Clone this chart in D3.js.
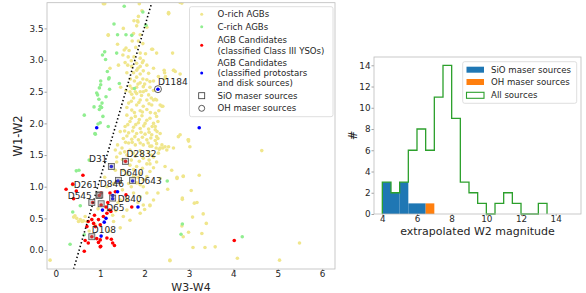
<!DOCTYPE html>
<html>
<head>
<meta charset="utf-8">
<script src="https://cdn.jsdelivr.net/npm/d3@7"></script>
<style>
  body { margin: 0; background: #fff; }
  svg text { font-family: "DejaVu Sans", sans-serif; fill: #262626; }
</style>
</head>
<body>
<div id="chart"></div>
<script>
// ---- data ----
// O-rich AGBs (W3-W4, W1-W2)
var oRich = [
  [1.07,3.89],[1.88,3.89],[2.84,3.90],[2.54,3.74],[1.94,3.78],[1.86,3.69],[1.76,3.62],[1.85,3.60],[1.82,3.54],
  [1.52,3.50],[2.05,3.52],[1.18,3.40],[1.90,3.40],[1.75,3.42],[1.39,3.25],[1.96,3.26],[2.18,3.17],[1.58,3.19],
  [1.54,3.16],[2.63,3.11],[2.27,3.11],[1.90,3.11],[1.51,3.08],[1.63,3.05],[1.76,3.05],[1.90,3.03],[1.97,2.99],
  [1.70,2.99],[1.56,2.96],[1.82,2.95],[2.05,2.92],[1.71,2.90],[1.90,2.90],[2.20,2.87],[1.82,2.84],[1.97,2.83],
  [1.75,2.80],[1.90,2.78],[2.09,2.79],[2.45,2.80],[2.66,2.84],[2.80,2.78],[1.82,2.73],[1.96,2.70],[1.77,2.67],
  [2.05,2.69],[1.90,2.64],[2.31,2.74],[2.20,2.67],[2.47,2.74],[1.46,2.57],[1.67,2.59],[1.82,2.57],[1.97,2.58],
  [2.12,2.57],[1.79,2.50],[1.90,2.50],[2.03,2.52],[1.58,2.52],[1.71,2.46],[2.20,2.52],
  [1.67,2.50],[1.82,2.47],[1.97,2.50],[2.09,2.45],[1.75,2.40],[1.90,2.37],[2.05,2.37],[2.24,2.38],[1.64,2.32],
  [1.82,2.29],[1.97,2.27],[2.16,2.29],[2.35,2.29],[1.71,2.21],[1.90,2.20],[2.05,2.22],[2.24,2.16],[2.41,2.27],
  [1.60,2.13],[1.79,2.11],[1.94,2.12],[2.12,2.08],[2.27,2.11],[1.67,2.03],[1.86,2.01],[2.01,2.00],[2.20,2.00],
  [1.56,1.95],[1.75,1.94],[1.90,1.92],[2.09,1.91],[2.24,1.90],[1.45,1.87],[1.64,1.85],[1.82,1.84],[2.01,1.83],
  [2.16,1.82],[2.35,1.84],[1.52,1.76],[1.71,1.75],[1.86,1.74],[2.05,1.74],[2.24,1.73],[1.64,1.69],[1.79,1.66],
  [1.97,1.66],[2.16,1.64],[2.35,1.61],[2.50,1.58],[1.49,1.61],[1.67,1.58],[1.90,1.57],[2.09,1.55],[2.31,1.53],
  [1.45,1.53],[1.60,1.50],[1.79,1.48],[1.97,1.45],[2.20,1.47],[2.65,1.61],[2.98,1.74],[1.39,1.66],[1.34,1.58],
  [1.37,1.47],[1.67,1.34],[1.82,1.32],[2.05,1.36],[2.27,1.39],[2.46,1.32],[2.61,1.26],[2.73,1.13],[2.87,1.17],
  [1.90,1.21],[2.12,1.24],[1.75,1.16],[1.97,1.11],[2.35,1.13],[1.52,1.26],[1.37,1.39],[1.34,1.26],
  [1.45,1.08],[1.64,1.05],[1.82,1.06],[1.97,1.00],[2.05,0.90],[1.90,0.84],[2.20,0.79],[1.97,0.71],[2.12,0.71],
  [1.90,0.58],[2.00,0.64],[2.85,0.82],[2.52,0.96],[1.60,0.63],[1.52,0.53],[1.45,0.79],[0.43,0.54],[0.51,0.45],
  [0.59,0.45],[0.66,0.53],[0.70,0.45],[-0.13,-0.16],[2.57,-0.16],[1.67,0.47],[0.40,0.52],[0.47,0.50],[0.55,0.48],
  [0.62,0.46],[0.88,0.40],[0.75,0.30],[1.20,0.30],[1.30,0.45],[1.45,0.35],[1.35,0.62],[1.50,0.95],[1.60,0.80],
  [1.15,1.00],[1.30,1.05],[1.10,1.15],[0.95,0.65],
  [2.12,1.64],[2.26,1.61],[2.33,1.59],[2.41,1.61],[2.54,1.63],[2.99,1.72],[4.64,1.57],[2.12,1.36],[2.73,1.15],
  [2.87,1.16],[3.23,1.18],[3.05,0.94],[2.85,0.80],[3.12,0.74],[3.18,0.75],[2.12,0.70],[3.32,0.57],[3.08,0.52],
  [3.39,0.42],[2.84,0.38],[2.99,0.28],[3.29,0.26],[2.87,0.21],[3.09,0.04],[3.36,0.04],[3.59,0.05],[4.09,-0.13],
  [5.04,-0.16],[5.49,0.11],[2.57,-0.17],
  [2.54,3.75],[2.44,2.84],[2.69,2.82],[2.46,2.71],[2.80,3.91],[2.54,3.73],[2.65,2.84],[2.27,2.37],[2.39,2.27],
  [2.99,1.74],[2.80,1.82],[2.20,2.37],[2.24,1.95],[2.27,1.79],[2.39,1.66],[2.46,1.63],[2.76,1.79],[3.02,1.63],
  [1.10,3.89],[1.84,3.62],[1.18,3.39],[2.16,3.17],[1.22,2.87],[1.41,2.92],
  [1.60,2.80],[1.68,2.70],[1.85,2.62],[2.00,2.62],[2.12,2.66],[1.72,2.55],[1.93,2.44],[2.15,2.40],[1.70,2.35],
  [1.87,2.33],[2.10,2.31],[1.60,2.25],[1.77,2.17],[1.95,2.18],[2.13,2.17],[2.32,2.20],[1.70,2.08],[1.88,2.06],
  [2.05,2.05],[2.30,2.03],[1.62,1.98],[1.80,1.98],[1.98,1.96],[2.17,1.95],[1.55,1.88],[1.73,1.88],[1.92,1.86],
  [2.10,1.86],[2.28,1.87],[1.60,1.80],[1.78,1.79],[1.95,1.78],[2.14,1.77],[2.30,1.76],[1.57,1.70],[1.72,1.70],
  [1.90,1.69],[2.08,1.69],[2.27,1.68],[1.55,1.55],[1.74,1.53],[1.95,1.52],[2.15,1.50],[1.50,1.43],[1.70,1.42],
  [1.88,1.40],[2.10,1.42],[1.75,1.27],[1.95,1.29],[2.20,1.30],[1.60,1.20],[1.85,1.15],[2.05,1.16],[1.70,1.00],
  [1.90,1.03],[1.75,0.90],[1.85,0.75],[2.30,0.90],[1.40,0.75],[1.28,0.55],
  [1.65,3.15],[1.80,3.20],[1.72,3.30],[1.86,3.30],[2.02,3.10],[1.62,2.92],[1.95,2.96],[1.85,2.87]
];
// C-rich AGBs
var cRich = [
  [1.54,3.85],[1.96,3.76],[1.31,3.57],[2.03,3.55],[1.39,3.40],[1.58,3.40],[1.71,3.39],[1.10,3.13],[1.05,3.08],
  [1.37,3.11],[1.12,3.01],[1.16,2.82],[1.20,2.72],[1.01,2.67],[1.19,2.70],[1.43,2.63],[1.01,2.61],[0.98,2.56],
  [1.21,2.54],[0.92,2.48],[1.13,2.42],[0.97,2.38],[1.77,2.55],[0.86,2.26],[1.00,2.27],[1.03,2.25],[0.98,2.22],
  [0.64,2.13],[1.06,2.11],[0.89,1.83],[1.18,1.95],[0.94,2.45],[1.04,2.32],[1.00,2.01],[0.95,1.99],[0.88,1.84],
  [0.75,1.42],[0.46,1.25],[0.52,1.26],[0.32,0.09],[0.38,0.60],[0.55,0.70],[2.51,1.09],[0.38,1.03],[0.64,0.24],
  [2.85,0.41],[2.82,0.25],[4.20,0.21]
];
// AGB candidates classified as Class III YSOs
var candIII = [
  [0.23,0.96],[0.46,0.93],[0.40,0.81],[0.98,0.86],[1.02,0.90],[0.83,0.75],[1.02,0.71],[1.17,0.75],[1.13,0.68],
  [1.21,0.63],[1.15,0.58],[1.24,0.61],[0.87,0.55],[0.81,0.48],[0.73,0.45],[0.85,0.42],[0.96,0.48],[1.07,0.53],
  [0.70,0.37],[0.89,0.37],[1.00,0.40],[0.81,0.21],[0.92,0.18],[1.00,0.16],[0.66,0.15],[0.73,0.11],[0.96,0.12],
  [1.01,0.06],[1.15,0.19],[1.25,0.17],[1.28,0.11],[0.64,-0.02],[1.58,0.87],[1.71,0.68],[1.34,0.92],[1.22,0.90],
  [0.61,1.18],[0.38,1.04],[1.32,0.07],[1.00,0.05],[1.57,1.40],[4.02,0.15]
];
// AGB candidates classified as protostars and disk sources
var candProto = [
  [0.92,1.93],[3.23,1.93],[2.30,2.54],[1.25,1.32],[1.40,1.09],[1.73,1.09],[1.39,0.92],[1.28,0.86],[1.28,0.81],
  [1.85,0.68],[1.05,0.63],[1.13,0.50],[1.09,0.44],[1.02,0.22]
];
// maser sources
var sioNames = ["D31", "D2832", "D640", "D643", "D261", "D846", "D545", "D65", "D840", "D108"];
var sioPts = [[1.25,1.32],[1.57,1.40],[1.41,1.10],[1.73,1.10],[0.97,0.86],[0.99,0.87],[0.81,0.75],[1.02,0.73],[1.28,0.82],[0.81,0.21]];
var ohNames = ["D1184"];
var ohPts = [[2.30,2.54]];
// dividing line
var cutLine = [[0.40,-0.30],[2.16,3.906]];

// histogram (extrapolated W2 magnitude)
var binEdges = [4,4.5,5,5.5,6,6.5,7,7.5,8,8.5,9,9.5,10,10.5,11,11.5,12,12.5,13,13.5];
var allCounts = [3,2,3,6,8,6,11,14,9,3,2,1,0,1,2,1,0,0,1];
var sioCounts = [3,2,3,1,1,0,0,0,0,0,0,0,0,0,0,0,0,0,0];
var ohCounts  = [0,0,0,0,0,1,0,0,0,0,0,0,0,0,0,0,0,0,0];

var xTicksL = [0,1,2,3,4,5,6];
var yTicksL = [0,0.5,1,1.5,2,2.5,3,3.5];
var xTicksR = [4,6,8,10,12,14];
var yTicksR = [0,2,4,6,8,10,12,14];

// ---- drawing ----
var W = 586, H = 293;
var svg = d3.select('#chart').append('svg').attr('width', W).attr('height', H);

var spine = '#bcbcbc';
var tickFont = '8.8px';

function styleAxis(g) {
  g.select('.domain').remove();
  g.selectAll('.tick line').attr('stroke', '#8c8c8c').attr('stroke-width', 0.8);
  g.selectAll('.tick text').style('font-size', tickFont).attr('fill', '#262626');
}

// left panel
var L = {x0: 47, x1: 335, y0: 2.7, y1: 269};
var xL = d3.scaleLinear().domain([-0.2, 6.29]).range([L.x0, L.x1]);
var yL = d3.scaleLinear().domain([-0.3, 3.906]).range([L.y1, L.y0]);

svg.append('g').attr('transform', 'translate(0,' + L.y1 + ')')
  .call(d3.axisBottom(xL).tickValues(xTicksL).tickSize(2).tickPadding(0).tickFormat(d3.format('d')))
  .call(styleAxis);
svg.append('g').attr('transform', 'translate(' + L.x0 + ',0)')
  .call(d3.axisLeft(yL).tickValues(yTicksL).tickSize(2.5).tickPadding(1).tickFormat(d3.format('.1f')))
  .call(styleAxis);

var plotL = svg.append('g');
plotL.append('clipPath').attr('id', 'clipL').append('rect')
  .attr('x', L.x0).attr('y', L.y0).attr('width', L.x1 - L.x0).attr('height', L.y1 - L.y0);
var pts = plotL.append('g').attr('clip-path', 'url(#clipL)');

function dots(data, color) {
  pts.append('g').selectAll('circle').data(data).enter().append('circle')
    .attr('cx', d => xL(d[0])).attr('cy', d => yL(d[1])).attr('r', 1.8)
    .attr('fill', color);
}
dots(oRich, '#f0e68c');
dots(cRich, '#90ee90');
dots(candIII, '#ff0000');
dots(candProto, '#0000ff');

pts.append('line')
  .attr('x1', xL(cutLine[0][0])).attr('y1', yL(cutLine[0][1]))
  .attr('x2', xL(cutLine[1][0])).attr('y2', yL(cutLine[1][1]))
  .attr('stroke', '#000').attr('stroke-width', 1.6).attr('stroke-dasharray', '1.4,2.4');

pts.append('g').selectAll('rect').data(sioPts).enter().append('rect')
  .attr('x', d => xL(d[0]) - 3).attr('y', d => yL(d[1]) - 3)
  .attr('width', 6).attr('height', 6)
  .attr('fill', 'rgba(128,128,128,0.35)').attr('stroke', '#555').attr('stroke-width', 0.8);
pts.append('g').selectAll('circle').data(ohPts).enter().append('circle')
  .attr('cx', d => xL(d[0])).attr('cy', d => yL(d[1])).attr('r', 3.5)
  .attr('fill', 'none').attr('stroke', '#333').attr('stroke-width', 0.8);

// label offsets in pixels
var labelOff = {
  D1184: [0, -4, 'start'], D2832: [1, -4, 'start'], D31: [-4, -4, 'end'], D640: [1, -4, 'start'],
  D643: [5, 3.5, 'start'], D261: [-1, -7.5, 'end'], D846: [0, -7.5, 'start'], D545: [0, -4, 'end'],
  D840: [5, 4, 'start'], D65: [5, 7, 'start'], D108: [0, -4, 'start']
};
var labels = sioNames.map((n, i) => ({name: n, p: sioPts[i]}))
  .concat(ohNames.map((n, i) => ({name: n, p: ohPts[i]})));
plotL.append('g').selectAll('text').data(labels).enter().append('text')
  .attr('x', d => xL(d.p[0]) + labelOff[d.name][0])
  .attr('y', d => yL(d.p[1]) + labelOff[d.name][1])
  .attr('text-anchor', d => labelOff[d.name][2])
  .style('font-size', '9px').attr('fill', '#000')
  .text(d => d.name);

// spines left
plotL.append('rect').attr('x', L.x0).attr('y', L.y0).attr('width', L.x1 - L.x0).attr('height', L.y1 - L.y0)
  .attr('fill', 'none').attr('stroke', spine).attr('stroke-width', 0.8);

// legend left
var legL = svg.append('g');
legL.append('rect').attr('x', 189.5).attr('y', 6.7).attr('width', 143.5).attr('height', 110)
  .attr('rx', 2).attr('fill', 'rgba(255,255,255,0.85)').attr('stroke', '#d6d6d6').attr('stroke-width', 0.8);
var legItems = [
  {lines: ['O-rich AGBs'], y: [14.3], my: 14.3, kind: 'dot', c: '#f0e68c'},
  {lines: ['C-rich AGBs'], y: [26.7], my: 26.7, kind: 'dot', c: '#90ee90'},
  {lines: ['AGB Candidates', '(classified Class III YSOs)'], y: [40, 50.5], my: 45.3, kind: 'dot', c: '#ff0000'},
  {lines: ['AGB Candidates', '(classified protostars', 'and disk sources)'], y: [62.7, 72.9, 83], my: 72.9, kind: 'dot', c: '#0000ff'},
  {lines: ['SiO maser sources'], y: [95.7], my: 95.7, kind: 'sq'},
  {lines: ['OH maser sources'], y: [108.3], my: 108.3, kind: 'ci'}
];
legItems.forEach(function(it) {
  if (it.kind == 'dot') {
    legL.append('circle').attr('cx', 201.7).attr('cy', it.my).attr('r', 1.5).attr('fill', it.c);
  } else if (it.kind == 'sq') {
    legL.append('rect').attr('x', 198.7).attr('y', it.my - 3).attr('width', 6).attr('height', 6)
      .attr('fill', 'none').attr('stroke', '#333').attr('stroke-width', 0.8);
  } else {
    legL.append('circle').attr('cx', 201.7).attr('cy', it.my).attr('r', 3)
      .attr('fill', 'none').attr('stroke', '#333').attr('stroke-width', 0.8);
  }
  it.lines.forEach(function(t, k) {
    legL.append('text').attr('x', 217.5).attr('y', it.y[k]).attr('dy', '0.35em')
      .style('font-size', '8.6px').text(t);
  });
});

svg.append('text').attr('x', (L.x0 + L.x1) / 2).attr('y', 291).attr('text-anchor', 'middle')
  .style('font-size', '11px').text('W3-W4');
svg.append('text').attr('transform', 'translate(22,' + ((L.y0 + L.y1) / 2) + ') rotate(-90)')
  .attr('text-anchor', 'middle').style('font-size', '11.5px').text('W1-W2');

// right panel
var R = {x0: 374, x1: 581, y0: 57, y1: 214};
var xR = d3.scaleLinear().domain([3.52, 15.46]).range([R.x0, R.x1]);
var yR = d3.scaleLinear().domain([0, 14.78]).range([R.y1, R.y0]);

svg.append('g').attr('transform', 'translate(0,' + R.y1 + ')')
  .call(d3.axisBottom(xR).tickValues(xTicksR).tickSize(2).tickPadding(0).tickFormat(d3.format('d')))
  .call(styleAxis);
svg.append('g').attr('transform', 'translate(' + R.x0 + ',0)')
  .call(d3.axisLeft(yR).tickValues(yTicksR).tickSize(2.5).tickPadding(1).tickFormat(d3.format('d')))
  .call(styleAxis);

var bins = allCounts.map((c, i) => ({x0: binEdges[i], x1: binEdges[i] + 0.5, all: c, sio: sioCounts[i], oh: ohCounts[i]}));

svg.append('g').selectAll('rect').data(bins.filter(b => b.sio > 0)).enter().append('rect')
  .attr('x', b => xR(b.x0)).attr('width', b => xR(b.x1) - xR(b.x0))
  .attr('y', b => yR(b.sio)).attr('height', b => yR(0) - yR(b.sio))
  .attr('fill', '#1f77b4');
svg.append('g').selectAll('rect').data(bins.filter(b => b.oh > 0)).enter().append('rect')
  .attr('x', b => xR(b.x0)).attr('width', b => xR(b.x1) - xR(b.x0))
  .attr('y', b => yR(b.sio + b.oh)).attr('height', b => yR(b.sio) - yR(b.sio + b.oh))
  .attr('fill', '#ff7f0e');

var stepPts = [[bins[0].x0, 0]];
bins.forEach(b => { stepPts.push([b.x0, b.all]); stepPts.push([b.x1, b.all]); });
stepPts.push([bins[bins.length - 1].x1, 0]);
svg.append('path')
  .attr('d', d3.line().x(d => xR(d[0])).y(d => yR(d[1]))(stepPts))
  .attr('fill', 'none').attr('stroke', '#2ca02c').attr('stroke-width', 1.3);

svg.append('rect').attr('x', R.x0).attr('y', R.y0).attr('width', R.x1 - R.x0).attr('height', R.y1 - R.y0)
  .attr('fill', 'none').attr('stroke', spine).attr('stroke-width', 0.8);

// legend right
var legR = svg.append('g');
legR.append('rect').attr('x', 462.7).attr('y', 61.7).attr('width', 114).attr('height', 41.6)
  .attr('rx', 2).attr('fill', 'rgba(255,255,255,0.85)').attr('stroke', '#d6d6d6').attr('stroke-width', 0.8);
var legRItems = [
  {t: 'SiO maser sources', y: 69.7, fill: '#1f77b4', stroke: 'none'},
  {t: 'OH maser sources', y: 82, fill: '#ff7f0e', stroke: 'none'},
  {t: 'All sources', y: 95.3, fill: 'none', stroke: '#2ca02c'}
];
legRItems.forEach(function(it) {
  legR.append('rect').attr('x', 466.5).attr('y', it.y - 3).attr('width', 17.5).attr('height', 6)
    .attr('fill', it.fill).attr('stroke', it.stroke).attr('stroke-width', 1.1);
  legR.append('text').attr('x', 491).attr('y', it.y).attr('dy', '0.35em')
    .style('font-size', '8.6px').text(it.t);
});

svg.append('text').attr('x', (R.x0 + R.x1) / 2).attr('y', 235).attr('text-anchor', 'middle')
  .style('font-size', '11px').text('extrapolated W2 magnitude');
svg.append('text').attr('transform', 'translate(357,' + ((R.y0 + R.y1) / 2) + ') rotate(-90)')
  .attr('text-anchor', 'middle').style('font-size', '11.5px').text('#');
</script>
</body>
</html>
